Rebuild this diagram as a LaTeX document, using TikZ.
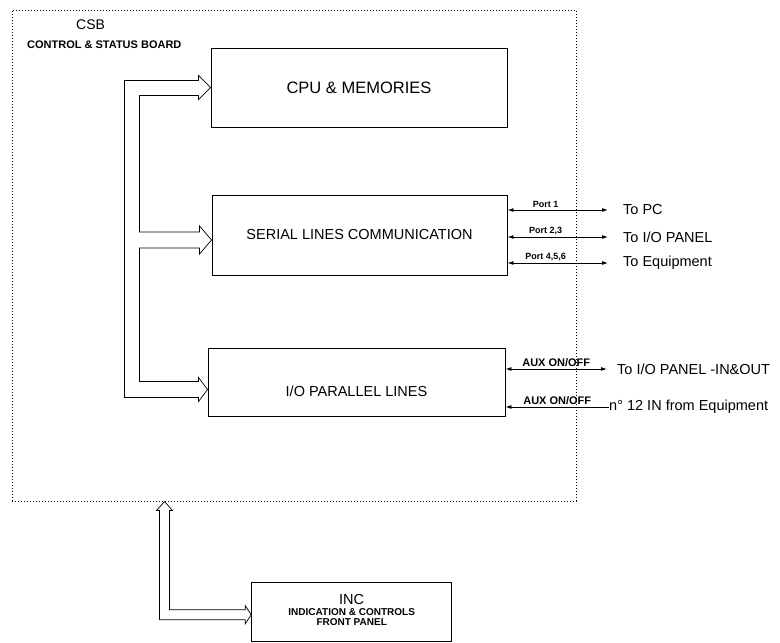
\documentclass[tikz,border=0pt]{standalone}
\usepackage{fontspec}
\setmainfont{Liberation Sans}
\usetikzlibrary{arrows.meta,positioning,calc}

\begin{document}
\begin{tikzpicture}[x=1pt,y=-1pt,>={Latex[length=6pt,width=4pt]}]
\tikzset{blk/.style={draw,line width=0.9pt,inner sep=0pt,font=\fontsize{14.5}{17}\selectfont},
 bus/.style={line width=0.7pt,line join=miter},
 lnk/.style={line width=0.9pt},
 tag/.style={inner sep=1.5pt,font=\fontsize{9}{10}\selectfont\bfseries},
 aux/.style={inner sep=1.5pt,font=\fontsize{11}{12}\selectfont\bfseries},
 dest/.style={anchor=west,inner sep=0pt,font=\fontsize{14.5}{17}\selectfont}}
\useasboundingbox (0,0) rectangle (780,643);

\node[draw,dotted,line width=1pt,minimum width=564pt,minimum height=491pt,inner sep=0pt] (csb) at (294,255.5) {};
\node[anchor=west,inner sep=0pt,font=\fontsize{14}{16}\selectfont] (csbname) at (76,25) {CSB};
\node[anchor=west,inner sep=0pt,font=\fontsize{11}{12}\selectfont\bfseries] (csbfull) at (27,45) {CONTROL \& STATUS BOARD};

\node[blk,minimum width=296pt,minimum height=79pt,font=\fontsize{16.5}{19}\selectfont] (cpu) at (359,87.5) {CPU \& MEMORIES};
\node[blk,minimum width=295pt,minimum height=80pt] (ser) at (359.5,235) {SERIAL LINES COMMUNICATION};
\node[blk,minimum width=297pt,minimum height=68pt] (io) at (356.5,382) {\raisebox{-9pt}[\height][0pt]{I/O PARALLEL LINES}};
\node[blk,minimum width=200pt,minimum height=59.5pt,align=center,font=\fontsize{10}{10.5}\selectfont] (inc) at (351.7,611.75)
 {\raisebox{4pt}{\shortstack{{\fontsize{14.5}{17}\selectfont INC}\\[1pt]{\bfseries INDICATION \& CONTROLS}\\{\bfseries FRONT PANEL}}}};

% internal bus
\coordinate (cpuin) at (cpu.west);
\coordinate (serin) at ($(ser.west)+(0,5)$);
\coordinate (ioin) at ($(io.west)+(0,7.5)$);
\draw[bus] (cpuin) -- ++(-12,-12) -- ++(0,5) -- ++(-74,0) |- ($(ioin)+(-9,8)$) -- ++(0,4) -- (ioin)
 -- ++(-9,-12) -- ++(0,4) -- ++(-59,0) |- ($(serin)+(-12,8)$) -- ++(0,6) -- (serin)
 -- ++(-12,-14) -- ++(0,6) -- ++(-60,0) |- ($(cpuin)+(-12,8)$) -- ++(0,4) -- cycle;

% front panel bus
\coordinate (inctop) at ($(csb.south west)+(153,0)$);
\coordinate (incin) at ($(inc.west)+(0,3)$);
\draw[bus] (inctop) -- ++(-8,9) -- ++(3,0) |- ($(incin)+(-6,5)$) -- ++(0,4) -- (incin)
 -- ++(-6,-9) -- ++(0,4) -| ($(inctop)+(5,9)$) -- ++(3,0) -- cycle;

\node[dest] (topc) at (623,210) {To PC};
\node[dest] (toio) at (623,237) {To I/O PANEL};
\node[dest] (toeq) at (623,263) {To Equipment};
\draw[lnk,<->] (ser.east |- topc) -- ($(topc.west)+(-15,0)$) node[tag,above,pos=0.38] {Port 1};
\draw[lnk,<->] (ser.east |- toio) -- ($(toio.west)+(-15,0)$) node[tag,above,pos=0.38] {Port 2,3};
\draw[lnk,<->] (ser.east |- toeq) -- ($(toeq.west)+(-15,0)$) node[tag,above,pos=0.38] {Port 4,5,6};

\node[dest] (toiop) at (617,369) {To I/O PANEL -IN\&OUT};
\node[dest] (fromeq) at (609,407) {n° 12 IN from Equipment};
\draw[lnk,<->] (io.east |- toiop) -- ($(toiop.west)+(-10,0)$) node[aux,above,midway] {AUX ON/OFF};
\draw[lnk,<-] (io.east |- fromeq) -- (fromeq.west) node[aux,above,midway] {AUX ON/OFF};
\end{tikzpicture}
\end{document}
